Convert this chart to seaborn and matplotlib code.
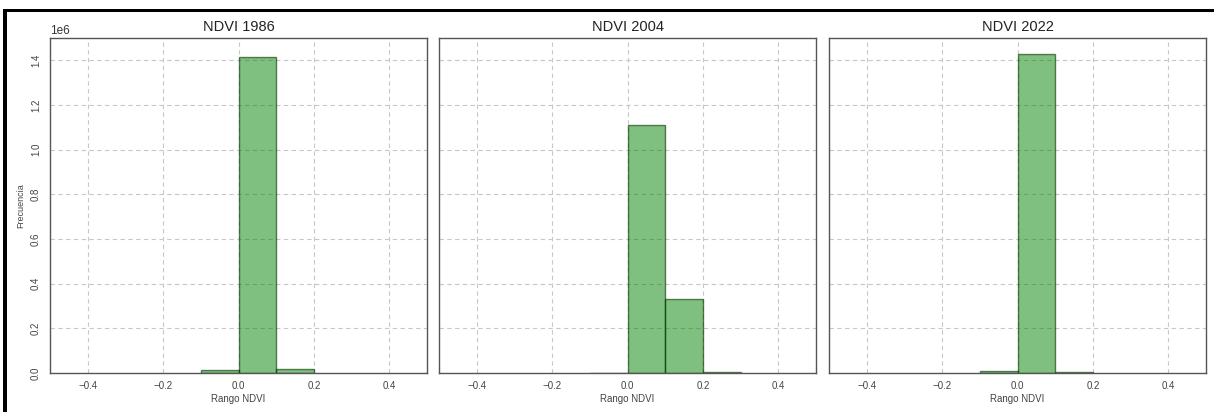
import numpy as np
import pandas as pd
import matplotlib
matplotlib.use("Agg")
import matplotlib.pyplot as plt
from matplotlib.patches import Rectangle
import seaborn as sns

# Histogram counts per NDVI bin (bin width 0.1)
years = ["1986", "2004", "2022"]
edges_1986 = [-0.1, 0.0, 0.1, 0.2]
counts_1986 = [13000, 1416000, 17000]
edges_2004 = [-0.1, 0.0, 0.1, 0.2, 0.3]
counts_2004 = [1500, 1112000, 330000, 2500]
edges_2022 = [-0.1, 0.0, 0.1, 0.2]
counts_2022 = [10000, 1430000, 5000]
all_edges = [edges_1986, edges_2004, edges_2022]
all_counts = [counts_1986, counts_2004, counts_2022]

sns.set_style("white")
plt.rcParams["font.family"] = ["Liberation Sans", "DejaVu Sans"]

W, H = 1214, 412
fig = plt.figure(figsize=(W / 100, H / 100), dpi=100)

lefts = [50, 439, 829]
ax_w, ax_top, ax_bot = 377, 38, 373

axes = []
for i, (year, edges, counts) in enumerate(zip(years, all_edges, all_counts)):
    ax = fig.add_axes([lefts[i] / W, (H - ax_bot) / H, ax_w / W, (ax_bot - ax_top) / H],
                      sharey=axes[0] if axes else None)
    centers = [(a + b) / 2 for a, b in zip(edges[:-1], edges[1:])]
    df = pd.DataFrame({"ndvi": centers, "n": counts})
    sns.histplot(data=df, x="ndvi", weights="n", bins=edges, ax=ax,
                 color="green", alpha=0.5, edgecolor=(0.0, 0.2, 0.0, 0.6), linewidth=1.0)
    ax.set_xlim(-0.5, 0.5)
    ax.set_xticks([-0.4, -0.2, 0.0, 0.2, 0.4])
    ax.set_title(f"NDVI {year}", fontsize=10.5, color="#222222", pad=5)
    ax.set_xlabel("Rango NDVI", fontsize=7, color="#444444", labelpad=2)
    ax.grid(True, linestyle=(0, (4, 3)), color="#c8c8c8", linewidth=0.8)
    ax.set_axisbelow(True)
    for sp in ax.spines.values():
        sp.set_color("#555555")
        sp.set_linewidth(1.0)
    ax.tick_params(axis="x", labelsize=7, colors="#444444", length=3, width=0.8, pad=3)
    ax.tick_params(axis="y", labelsize=7, colors="#444444", length=3, width=0.8,
                   labelrotation=90)
    if i == 0:
        ax.set_ylabel("Frecuencia", fontsize=6.5, color="#444444", labelpad=4)
        ax.yaxis.get_offset_text().set_fontsize(8.5)
        ax.yaxis.get_offset_text().set_color("#333333")
    else:
        ax.set_ylabel("")
        ax.tick_params(axis="y", labelleft=False, left=False)
    axes.append(ax)

axes[0].set_ylim(0, 1.5e6)
for lab in axes[0].get_yticklabels():
    lab.set_verticalalignment("center")

# dark frame along the left and top edges of the image
fig.add_artist(Rectangle((3 / W, 0), 4 / W, (H - 9) / H, transform=fig.transFigure,
                         color="black", lw=0))
fig.add_artist(Rectangle((3 / W, (H - 12) / H), (W - 3) / W, 3 / H, transform=fig.transFigure,
                         color="black", lw=0))

fig.savefig("out.png", dpi=100)
